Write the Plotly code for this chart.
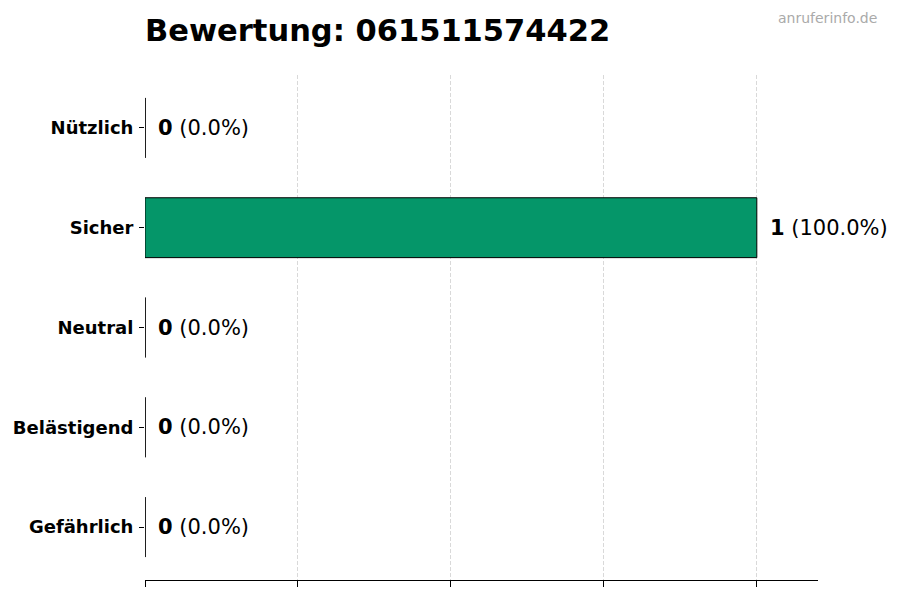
import plotly.graph_objects as go

# display order, top to bottom
categories = ["Nützlich", "Sicher", "Neutral", "Belästigend", "Gefährlich"]
counts = [0, 1, 0, 0, 0]
grid_ticks = [0, 0.25, 0.5, 0.75, 1.0]
number = "061511574422"

FONT = "DejaVu Sans"
total = sum(counts)

fig = go.Figure(go.Bar(
    x=counts,
    y=categories,
    orientation="h",
    width=0.6,
    marker=dict(color="#059669", line=dict(color="black", width=1)),
    hoverinfo="skip",
))

# label next to each bar, plus the outline of the empty bars
for i, (cat, v) in enumerate(zip(categories, counts)):
    pct = v / total * 100 if total else 0
    fig.add_annotation(x=v, y=cat, text="<b>{}</b> ({:.1f}%)".format(v, pct),
                       showarrow=False, xanchor="left", xshift=11,
                       font=dict(family=FONT, size=21, color="black"))
    if v == 0:
        fig.add_shape(type="line", x0=v, x1=v, y0=i - 0.3, y1=i + 0.3,
                      xref="x", yref="y", line=dict(color="black", width=1))

fig.add_annotation(text="anruferinfo.de", xref="paper", yref="paper",
                   x=(871 - 137) / 673, y=1 + (67 - 10) / 505, xanchor="right", yanchor="middle",
                   showarrow=False, font=dict(family=FONT, size=14, color="#aaaaaa"))

fig.update_layout(
    width=900, height=600,
    margin=dict(l=137, r=90, t=67, b=28),
    plot_bgcolor="white", paper_bgcolor="white",
    showlegend=False,
    font=dict(family=FONT, color="black"),
    title=dict(text="<b>Bewertung: {}</b>".format(number), x=137 / 900, xanchor="left",
               xref="container", y=1 - 22 / 600, yref="container", yanchor="middle",
               font=dict(family=FONT, size=30.5, color="black")),
)
fig.update_xaxes(range=[0, 1.1], tickvals=grid_ticks, showticklabels=False,
                 ticks="outside", ticklen=6, tickcolor="black", automargin=False,
                 showgrid=True, gridcolor="#d9d9d9", griddash="4px,2px", gridwidth=1,
                 showline=True, linecolor="black", linewidth=1, zeroline=False)
fig.update_yaxes(range=[4.53, -0.53], type="category", ticks="outside", ticklen=5,
                 tickcolor="black", showgrid=False, showline=False, zeroline=False,
                 automargin=False,
                 tickfont=dict(family=FONT, size=18, color="black", weight="bold"),
                 ticklabelstandoff=2)

fig.write_html("out.html")
